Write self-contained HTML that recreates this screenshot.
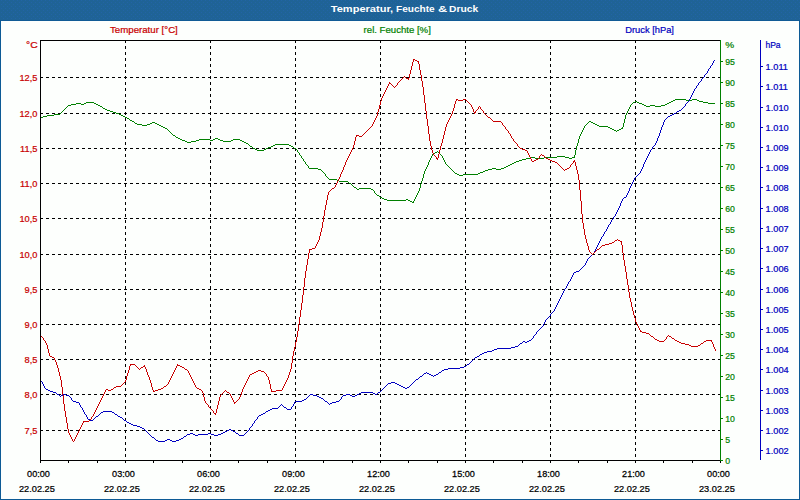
<!DOCTYPE html>
<html><head><meta charset="utf-8"><title>Temperatur, Feuchte &amp; Druck</title>
<style>
html,body{margin:0;padding:0;background:#fff;}
body{width:800px;height:500px;overflow:hidden;font-family:"Liberation Sans",sans-serif;}
svg{display:block;}
text{font-family:"Liberation Sans",sans-serif;font-size:9.5px;}
.t{font-weight:bold;fill:#fff;font-size:9.8px;}
.r{fill:#c80000;stroke:#c80000;stroke-width:.22px;}
.g{fill:#008000;stroke:#008000;stroke-width:.22px;}
.b{fill:#0000c0;stroke:#0000c0;stroke-width:.22px;}
.k{fill:#000;stroke:#000;stroke-width:.25px;}
</style></head><body>
<svg width="800" height="500" viewBox="0 0 800 500">

<rect x="0" y="0" width="800" height="500" fill="#fdfffd"/>
<defs><pattern id="dz" width="4" height="4" patternUnits="userSpaceOnUse"><rect x="1" y="0" width="1" height="1" fill="#2264a6"/><rect x="3" y="2" width="1" height="1" fill="#2264a6"/></pattern></defs>
<rect x="0" y="0" width="800" height="21" fill="#1f6396"/>
<rect x="0" y="0" width="800" height="20" fill="url(#dz)" shape-rendering="crispEdges"/>
<rect x="0" y="20" width="800" height="1" fill="#115b96"/>
<rect x="0" y="20" width="1" height="480" fill="#0d5a95"/>
<rect x="799" y="20" width="1" height="480" fill="#0d5a95"/>
<rect x="0" y="499" width="800" height="1" fill="#0d5a95"/>
<text class="t" transform="translate(330.8 12) scale(1.127 1)" text-anchor="start">Temperatur,</text>
<text class="t" transform="translate(396.1 12) scale(1.027 1)" text-anchor="start">Feuchte</text>
<text class="t" transform="translate(438.1 12) scale(1.3 1)" text-anchor="start">&amp;</text>
<text class="t" transform="translate(449.0 12) scale(1.05 1)" text-anchor="start">Druck</text>
<g shape-rendering="crispEdges" stroke="#000" stroke-width="1" fill="none">
<line x1="40" y1="77.5" x2="720" y2="77.5" stroke-dasharray="3 3"/>
<line x1="40" y1="113.5" x2="720" y2="113.5" stroke-dasharray="3 3"/>
<line x1="40" y1="148.5" x2="720" y2="148.5" stroke-dasharray="3 3"/>
<line x1="40" y1="183.5" x2="720" y2="183.5" stroke-dasharray="3 3"/>
<line x1="40" y1="218.5" x2="720" y2="218.5" stroke-dasharray="3 3"/>
<line x1="40" y1="254.5" x2="720" y2="254.5" stroke-dasharray="3 3"/>
<line x1="40" y1="289.5" x2="720" y2="289.5" stroke-dasharray="3 3"/>
<line x1="40" y1="324.5" x2="720" y2="324.5" stroke-dasharray="3 3"/>
<line x1="40" y1="359.5" x2="720" y2="359.5" stroke-dasharray="3 3"/>
<line x1="40" y1="394.5" x2="720" y2="394.5" stroke-dasharray="3 3"/>
<line x1="40" y1="430.5" x2="720" y2="430.5" stroke-dasharray="3 3"/>
<line x1="125.5" y1="40" x2="125.5" y2="460" stroke-dasharray="3 3"/>
<line x1="210.5" y1="40" x2="210.5" y2="460" stroke-dasharray="3 3"/>
<line x1="295.5" y1="40" x2="295.5" y2="460" stroke-dasharray="3 3"/>
<line x1="380.5" y1="40" x2="380.5" y2="460" stroke-dasharray="3 3"/>
<line x1="465.5" y1="40" x2="465.5" y2="460" stroke-dasharray="3 3"/>
<line x1="550.5" y1="40" x2="550.5" y2="460" stroke-dasharray="3 3"/>
<line x1="635.5" y1="40" x2="635.5" y2="460" stroke-dasharray="3 3"/>
<line x1="40.5" y1="40" x2="40.5" y2="461"/>
<line x1="40" y1="40.5" x2="721" y2="40.5"/>
<line x1="40" y1="460.5" x2="721" y2="460.5"/>
<line x1="40.5" y1="460" x2="40.5" y2="463"/>
<line x1="68.5" y1="460" x2="68.5" y2="463"/>
<line x1="97.5" y1="460" x2="97.5" y2="463"/>
<line x1="125.5" y1="460" x2="125.5" y2="463"/>
<line x1="153.5" y1="460" x2="153.5" y2="463"/>
<line x1="182.5" y1="460" x2="182.5" y2="463"/>
<line x1="210.5" y1="460" x2="210.5" y2="463"/>
<line x1="238.5" y1="460" x2="238.5" y2="463"/>
<line x1="267.5" y1="460" x2="267.5" y2="463"/>
<line x1="295.5" y1="460" x2="295.5" y2="463"/>
<line x1="323.5" y1="460" x2="323.5" y2="463"/>
<line x1="352.5" y1="460" x2="352.5" y2="463"/>
<line x1="380.5" y1="460" x2="380.5" y2="463"/>
<line x1="408.5" y1="460" x2="408.5" y2="463"/>
<line x1="437.5" y1="460" x2="437.5" y2="463"/>
<line x1="465.5" y1="460" x2="465.5" y2="463"/>
<line x1="493.5" y1="460" x2="493.5" y2="463"/>
<line x1="522.5" y1="460" x2="522.5" y2="463"/>
<line x1="550.5" y1="460" x2="550.5" y2="463"/>
<line x1="578.5" y1="460" x2="578.5" y2="463"/>
<line x1="607.5" y1="460" x2="607.5" y2="463"/>
<line x1="635.5" y1="460" x2="635.5" y2="463"/>
<line x1="663.5" y1="460" x2="663.5" y2="463"/>
<line x1="692.5" y1="460" x2="692.5" y2="463"/>
<line x1="720.5" y1="460" x2="720.5" y2="463"/>
</g>
<g shape-rendering="crispEdges" stroke-width="1" fill="none">
<line x1="720.5" y1="40" x2="720.5" y2="461" stroke="#008000"/>
<line x1="720" y1="460.5" x2="723" y2="460.5" stroke="#008000"/>
<line x1="720" y1="439.5" x2="723" y2="439.5" stroke="#008000"/>
<line x1="720" y1="418.5" x2="723" y2="418.5" stroke="#008000"/>
<line x1="720" y1="397.5" x2="723" y2="397.5" stroke="#008000"/>
<line x1="720" y1="376.5" x2="723" y2="376.5" stroke="#008000"/>
<line x1="720" y1="355.5" x2="723" y2="355.5" stroke="#008000"/>
<line x1="720" y1="334.5" x2="723" y2="334.5" stroke="#008000"/>
<line x1="720" y1="313.5" x2="723" y2="313.5" stroke="#008000"/>
<line x1="720" y1="292.5" x2="723" y2="292.5" stroke="#008000"/>
<line x1="720" y1="271.5" x2="723" y2="271.5" stroke="#008000"/>
<line x1="720" y1="250.5" x2="723" y2="250.5" stroke="#008000"/>
<line x1="720" y1="229.5" x2="723" y2="229.5" stroke="#008000"/>
<line x1="720" y1="208.5" x2="723" y2="208.5" stroke="#008000"/>
<line x1="720" y1="187.5" x2="723" y2="187.5" stroke="#008000"/>
<line x1="720" y1="166.5" x2="723" y2="166.5" stroke="#008000"/>
<line x1="720" y1="145.5" x2="723" y2="145.5" stroke="#008000"/>
<line x1="720" y1="124.5" x2="723" y2="124.5" stroke="#008000"/>
<line x1="720" y1="103.5" x2="723" y2="103.5" stroke="#008000"/>
<line x1="720" y1="82.5" x2="723" y2="82.5" stroke="#008000"/>
<line x1="720" y1="61.5" x2="723" y2="61.5" stroke="#008000"/>
<line x1="760.5" y1="40" x2="760.5" y2="460" stroke="#0000c0"/>
<line x1="760" y1="450.5" x2="763" y2="450.5" stroke="#0000c0"/>
<line x1="760" y1="430.5" x2="763" y2="430.5" stroke="#0000c0"/>
<line x1="760" y1="410.5" x2="763" y2="410.5" stroke="#0000c0"/>
<line x1="760" y1="390.5" x2="763" y2="390.5" stroke="#0000c0"/>
<line x1="760" y1="369.5" x2="763" y2="369.5" stroke="#0000c0"/>
<line x1="760" y1="349.5" x2="763" y2="349.5" stroke="#0000c0"/>
<line x1="760" y1="329.5" x2="763" y2="329.5" stroke="#0000c0"/>
<line x1="760" y1="309.5" x2="763" y2="309.5" stroke="#0000c0"/>
<line x1="760" y1="289.5" x2="763" y2="289.5" stroke="#0000c0"/>
<line x1="760" y1="268.5" x2="763" y2="268.5" stroke="#0000c0"/>
<line x1="760" y1="248.5" x2="763" y2="248.5" stroke="#0000c0"/>
<line x1="760" y1="228.5" x2="763" y2="228.5" stroke="#0000c0"/>
<line x1="760" y1="208.5" x2="763" y2="208.5" stroke="#0000c0"/>
<line x1="760" y1="187.5" x2="763" y2="187.5" stroke="#0000c0"/>
<line x1="760" y1="167.5" x2="763" y2="167.5" stroke="#0000c0"/>
<line x1="760" y1="147.5" x2="763" y2="147.5" stroke="#0000c0"/>
<line x1="760" y1="127.5" x2="763" y2="127.5" stroke="#0000c0"/>
<line x1="760" y1="107.5" x2="763" y2="107.5" stroke="#0000c0"/>
<line x1="760" y1="86.5" x2="763" y2="86.5" stroke="#0000c0"/>
<line x1="760" y1="66.5" x2="763" y2="66.5" stroke="#0000c0"/>
</g>
<text class="r" transform="translate(110 33.3) scale(1.019 1)" text-anchor="start">Temperatur [°C]</text>
<text class="g" transform="translate(363.6 33.3) scale(1.011 1)" text-anchor="start">rel. Feuchte [%]</text>
<text class="b" transform="translate(625.2 33.3) scale(0.985 1)" text-anchor="start">Druck [hPa]</text>
<text class="r" transform="translate(37.6 48) scale(1.09 1)" text-anchor="end">°C</text>
<text class="r" transform="translate(37.4 80.6) scale(0.975 1)" text-anchor="end">12,5</text>
<text class="r" transform="translate(37.4 116.6) scale(0.975 1)" text-anchor="end">12,0</text>
<text class="r" transform="translate(37.4 151.6) scale(0.975 1)" text-anchor="end">11,5</text>
<text class="r" transform="translate(37.4 186.6) scale(0.975 1)" text-anchor="end">11,0</text>
<text class="r" transform="translate(37.4 221.6) scale(0.975 1)" text-anchor="end">10,5</text>
<text class="r" transform="translate(37.4 257.6) scale(0.975 1)" text-anchor="end">10,0</text>
<text class="r" transform="translate(37.4 292.6) scale(0.975 1)" text-anchor="end">9,5</text>
<text class="r" transform="translate(37.4 327.6) scale(0.975 1)" text-anchor="end">9,0</text>
<text class="r" transform="translate(37.4 362.6) scale(0.975 1)" text-anchor="end">8,5</text>
<text class="r" transform="translate(37.4 397.6) scale(0.975 1)" text-anchor="end">8,0</text>
<text class="r" transform="translate(37.4 433.6) scale(0.975 1)" text-anchor="end">7,5</text>
<text class="g" transform="translate(725.2 48) scale(1.05 1)" text-anchor="start">%</text>
<text class="g" transform="translate(725.2 463.6) scale(0.92 1)" text-anchor="start">0</text>
<text class="g" transform="translate(725.2 442.6) scale(0.92 1)" text-anchor="start">5</text>
<text class="g" transform="translate(725.2 421.6) scale(0.92 1)" text-anchor="start">10</text>
<text class="g" transform="translate(725.2 400.6) scale(0.92 1)" text-anchor="start">15</text>
<text class="g" transform="translate(725.2 379.6) scale(0.92 1)" text-anchor="start">20</text>
<text class="g" transform="translate(725.2 358.6) scale(0.92 1)" text-anchor="start">25</text>
<text class="g" transform="translate(725.2 337.6) scale(0.92 1)" text-anchor="start">30</text>
<text class="g" transform="translate(725.2 316.6) scale(0.92 1)" text-anchor="start">35</text>
<text class="g" transform="translate(725.2 295.6) scale(0.92 1)" text-anchor="start">40</text>
<text class="g" transform="translate(725.2 274.6) scale(0.92 1)" text-anchor="start">45</text>
<text class="g" transform="translate(725.2 253.6) scale(0.92 1)" text-anchor="start">50</text>
<text class="g" transform="translate(725.2 232.6) scale(0.92 1)" text-anchor="start">55</text>
<text class="g" transform="translate(725.2 211.6) scale(0.92 1)" text-anchor="start">60</text>
<text class="g" transform="translate(725.2 190.6) scale(0.92 1)" text-anchor="start">65</text>
<text class="g" transform="translate(725.2 169.6) scale(0.92 1)" text-anchor="start">70</text>
<text class="g" transform="translate(725.2 148.6) scale(0.92 1)" text-anchor="start">75</text>
<text class="g" transform="translate(725.2 127.6) scale(0.92 1)" text-anchor="start">80</text>
<text class="g" transform="translate(725.2 106.6) scale(0.92 1)" text-anchor="start">85</text>
<text class="g" transform="translate(725.2 85.6) scale(0.92 1)" text-anchor="start">90</text>
<text class="g" transform="translate(725.2 64.6) scale(0.92 1)" text-anchor="start">95</text>
<text class="b" transform="translate(765.4 48) scale(0.9 1)" text-anchor="start">hPa</text>
<text class="b" transform="translate(765.6 453.6) scale(0.97 1)" text-anchor="start">1.002</text>
<text class="b" transform="translate(765.6 433.6) scale(0.97 1)" text-anchor="start">1.002</text>
<text class="b" transform="translate(765.6 413.6) scale(0.97 1)" text-anchor="start">1.003</text>
<text class="b" transform="translate(765.6 393.6) scale(0.97 1)" text-anchor="start">1.003</text>
<text class="b" transform="translate(765.6 372.6) scale(0.97 1)" text-anchor="start">1.004</text>
<text class="b" transform="translate(765.6 352.6) scale(0.97 1)" text-anchor="start">1.004</text>
<text class="b" transform="translate(765.6 332.6) scale(0.97 1)" text-anchor="start">1.005</text>
<text class="b" transform="translate(765.6 312.6) scale(0.97 1)" text-anchor="start">1.005</text>
<text class="b" transform="translate(765.6 292.6) scale(0.97 1)" text-anchor="start">1.006</text>
<text class="b" transform="translate(765.6 271.6) scale(0.97 1)" text-anchor="start">1.006</text>
<text class="b" transform="translate(765.6 251.6) scale(0.97 1)" text-anchor="start">1.007</text>
<text class="b" transform="translate(765.6 231.6) scale(0.97 1)" text-anchor="start">1.007</text>
<text class="b" transform="translate(765.6 211.6) scale(0.97 1)" text-anchor="start">1.008</text>
<text class="b" transform="translate(765.6 190.6) scale(0.97 1)" text-anchor="start">1.008</text>
<text class="b" transform="translate(765.6 170.6) scale(0.97 1)" text-anchor="start">1.009</text>
<text class="b" transform="translate(765.6 150.6) scale(0.97 1)" text-anchor="start">1.009</text>
<text class="b" transform="translate(765.6 130.6) scale(0.97 1)" text-anchor="start">1.010</text>
<text class="b" transform="translate(765.6 110.6) scale(0.97 1)" text-anchor="start">1.010</text>
<text class="b" transform="translate(765.6 89.6) scale(0.97 1)" text-anchor="start">1.011</text>
<text class="b" transform="translate(765.6 69.6) scale(0.97 1)" text-anchor="start">1.011</text>
<text class="k" transform="translate(38.5 476.8) scale(0.96 1)" text-anchor="middle">00:00</text>
<text class="k" transform="translate(36.9 491.8) scale(0.97 1)" text-anchor="middle">22.02.25</text>
<text class="k" transform="translate(123.5 476.8) scale(0.96 1)" text-anchor="middle">03:00</text>
<text class="k" transform="translate(121.9 491.8) scale(0.97 1)" text-anchor="middle">22.02.25</text>
<text class="k" transform="translate(208.5 476.8) scale(0.96 1)" text-anchor="middle">06:00</text>
<text class="k" transform="translate(206.9 491.8) scale(0.97 1)" text-anchor="middle">22.02.25</text>
<text class="k" transform="translate(293.5 476.8) scale(0.96 1)" text-anchor="middle">09:00</text>
<text class="k" transform="translate(291.9 491.8) scale(0.97 1)" text-anchor="middle">22.02.25</text>
<text class="k" transform="translate(378.5 476.8) scale(0.96 1)" text-anchor="middle">12:00</text>
<text class="k" transform="translate(376.9 491.8) scale(0.97 1)" text-anchor="middle">22.02.25</text>
<text class="k" transform="translate(463.5 476.8) scale(0.96 1)" text-anchor="middle">15:00</text>
<text class="k" transform="translate(461.9 491.8) scale(0.97 1)" text-anchor="middle">22.02.25</text>
<text class="k" transform="translate(548.5 476.8) scale(0.96 1)" text-anchor="middle">18:00</text>
<text class="k" transform="translate(546.9 491.8) scale(0.97 1)" text-anchor="middle">22.02.25</text>
<text class="k" transform="translate(633.5 476.8) scale(0.96 1)" text-anchor="middle">21:00</text>
<text class="k" transform="translate(631.9 491.8) scale(0.97 1)" text-anchor="middle">22.02.25</text>
<text class="k" transform="translate(718.5 476.8) scale(0.96 1)" text-anchor="middle">00:00</text>
<text class="k" transform="translate(716.9 491.8) scale(0.97 1)" text-anchor="middle">23.02.25</text>
<path d="M41 117h2v1h-2zM43 116h4v1h-4zM47 115h7v1h-7zM54 114h6v1h-6zM60 113h1v1h-1zM61 112h1v1h-1zM62 111h1v1h-1zM63 110h1v1h-1zM64 109h1v1h-1zM65 108h1v1h-1zM66 107h1v1h-1zM67 106h1v1h-1zM68 105h3v1h-3zM71 104h5v1h-5zM76 103h5v1h-5zM81 104h3v1h-3zM84 103h2v1h-2zM86 102h8v1h-8zM94 103h2v1h-2zM96 104h2v1h-2zM98 105h2v1h-2zM100 106h2v1h-2zM102 107h1v1h-1zM103 108h2v1h-2zM105 109h2v1h-2zM107 110h3v1h-3zM110 111h3v1h-3zM113 112h3v1h-3zM116 113h3v1h-3zM119 114h2v1h-2zM121 115h2v1h-2zM123 116h2v1h-2zM125 117h2v1h-2zM127 118h2v1h-2zM129 119h1v1h-1zM130 120h2v1h-2zM132 121h2v1h-2zM134 122h1v1h-1zM135 123h2v1h-2zM137 124h5v1h-5zM142 125h5v1h-5zM147 124h3v1h-3zM150 123h2v1h-2zM152 122h3v1h-3zM155 123h2v1h-2zM157 124h2v1h-2zM159 125h2v1h-2zM161 126h2v1h-2zM163 127h2v1h-2zM165 128h2v1h-2zM167 129h1v1h-1zM168 130h1v1h-1zM169 131h1v1h-1zM170 132h1v1h-1zM171 133h1v1h-1zM172 134h1v1h-1zM173 135h2v1h-2zM175 136h1v1h-1zM176 137h2v1h-2zM178 138h2v1h-2zM180 139h2v1h-2zM182 140h3v1h-3zM185 141h2v1h-2zM187 142h4v1h-4zM191 141h5v1h-5zM196 140h3v1h-3zM199 139h11v1h-11zM210 140h3v1h-3zM213 139h2v1h-2zM215 138h3v1h-3zM218 139h2v1h-2zM220 140h3v1h-3zM223 141h8v1h-8zM231 140h2v1h-2zM233 139h7v1h-7zM240 140h2v1h-2zM242 141h2v1h-2zM244 142h2v1h-2zM246 143h2v1h-2zM248 144h1v1h-1zM249 145h1v1h-1zM250 146h2v1h-2zM252 147h1v1h-1zM253 148h2v1h-2zM255 149h2v1h-2zM257 150h7v1h-7zM264 149h2v1h-2zM266 148h2v1h-2zM268 147h3v1h-3zM271 146h2v1h-2zM273 145h2v1h-2zM275 144h14v1h-14zM289 145h2v1h-2zM291 146h2v1h-2zM293 147h1v1h-1zM294 148h2v1h-2zM296 149h1v1h-1zM297 150h1v2h-1zM298 152h1v1h-1zM299 153h1v2h-1zM300 155h1v1h-1zM301 156h1v2h-1zM302 158h1v1h-1zM303 159h1v2h-1zM304 161h1v1h-1zM305 162h1v2h-1zM306 164h1v1h-1zM307 165h1v1h-1zM308 166h1v2h-1zM309 168h9v1h-9zM318 169h3v1h-3zM321 170h1v1h-1zM322 171h1v1h-1zM323 172h1v1h-1zM324 173h1v1h-1zM325 174h1v2h-1zM326 176h1v1h-1zM327 177h1v1h-1zM328 178h1v1h-1zM329 179h8v1h-8zM337 180h2v1h-2zM339 181h9v1h-9zM348 182h1v1h-1zM349 183h2v1h-2zM351 184h1v1h-1zM352 185h1v1h-1zM353 186h1v1h-1zM354 187h2v1h-2zM356 188h1v1h-1zM357 189h2v1h-2zM359 188h12v1h-12zM371 189h2v1h-2zM373 190h1v1h-1zM374 191h1v2h-1zM375 193h1v1h-1zM376 194h1v1h-1zM377 195h2v1h-2zM379 196h1v1h-1zM380 197h2v1h-2zM382 198h2v1h-2zM384 199h3v1h-3zM387 200h19v1h-19zM406 199h2v1h-2zM408 200h2v1h-2zM410 201h2v1h-2zM412 202h2v1h-2zM413 201h1v1h-1zM414 199h1v2h-1zM415 197h1v2h-1zM416 195h1v2h-1zM417 193h1v2h-1zM418 191h1v2h-1zM419 188h1v3h-1zM420 184h1v4h-1zM421 181h1v3h-1zM422 178h1v3h-1zM423 174h1v4h-1zM424 171h1v3h-1zM425 169h1v2h-1zM426 167h1v2h-1zM427 165h1v2h-1zM428 162h1v3h-1zM429 160h1v2h-1zM430 158h1v2h-1zM431 156h1v2h-1zM432 154h1v2h-1zM433 153h2v1h-2zM435 152h2v1h-2zM437 151h1v1h-1zM438 152h1v1h-1zM439 153h1v1h-1zM440 154h1v1h-1zM441 155h1v1h-1zM442 156h1v2h-1zM443 158h1v2h-1zM444 160h1v2h-1zM445 162h1v2h-1zM446 164h1v1h-1zM447 165h1v1h-1zM448 166h1v1h-1zM449 167h1v1h-1zM450 168h1v1h-1zM451 169h1v1h-1zM452 170h1v1h-1zM453 171h1v1h-1zM454 172h1v1h-1zM455 173h2v1h-2zM457 174h2v1h-2zM459 175h4v1h-4zM463 174h15v1h-15zM478 173h2v1h-2zM480 172h3v1h-3zM483 171h2v1h-2zM485 170h3v1h-3zM488 169h4v1h-4zM492 168h4v1h-4zM496 169h5v1h-5zM501 168h3v1h-3zM504 167h2v1h-2zM506 166h2v1h-2zM508 165h2v1h-2zM510 164h2v1h-2zM512 163h2v1h-2zM514 162h2v1h-2zM516 161h3v1h-3zM519 160h3v1h-3zM522 159h4v1h-4zM526 158h4v1h-4zM530 157h5v1h-5zM535 158h9v1h-9zM544 157h13v1h-13zM557 156h8v1h-8zM565 157h4v1h-4zM569 158h3v1h-3zM572 157h3v1h-3zM574 155h1v2h-1zM575 150h1v5h-1zM576 146h1v4h-1zM577 143h1v3h-1zM578 139h1v4h-1zM579 136h1v3h-1zM580 134h1v2h-1zM581 132h1v2h-1zM582 130h1v2h-1zM583 128h1v2h-1zM584 126h1v2h-1zM585 125h1v1h-1zM586 124h1v1h-1zM587 123h1v1h-1zM588 122h1v1h-1zM589 121h2v1h-2zM591 122h2v1h-2zM593 123h2v1h-2zM595 124h2v1h-2zM597 125h2v1h-2zM599 126h9v1h-9zM608 127h2v1h-2zM610 128h2v1h-2zM612 129h2v1h-2zM614 130h2v1h-2zM616 131h1v1h-1zM617 130h2v1h-2zM619 129h2v1h-2zM621 128h2v1h-2zM622 127h1v1h-1zM623 123h1v4h-1zM624 119h1v4h-1zM625 115h1v4h-1zM626 113h1v2h-1zM627 111h1v2h-1zM628 109h1v2h-1zM629 107h1v2h-1zM630 105h1v2h-1zM631 104h1v1h-1zM632 103h1v1h-1zM633 102h2v1h-2zM635 101h2v1h-2zM637 102h2v1h-2zM639 103h3v1h-3zM642 104h2v1h-2zM644 105h2v1h-2zM646 106h4v1h-4zM650 105h5v1h-5zM655 106h6v1h-6zM661 105h4v1h-4zM665 104h2v1h-2zM667 103h2v1h-2zM669 102h2v1h-2zM671 101h2v1h-2zM673 100h2v1h-2zM675 99h11v1h-11zM686 100h6v1h-6zM692 99h5v1h-5zM697 100h2v1h-2zM699 101h4v1h-4zM703 102h5v1h-5zM708 103h7v1h-7z" fill="#008000" shape-rendering="crispEdges"/>
<path d="M41 381h1v1h-1zM42 382h1v2h-1zM43 384h1v2h-1zM44 386h1v2h-1zM45 388h1v1h-1zM46 389h2v1h-2zM48 390h2v1h-2zM50 391h3v1h-3zM53 392h3v1h-3zM56 393h1v1h-1zM57 394h2v1h-2zM59 395h1v1h-1zM60 396h1v1h-1zM61 395h2v1h-2zM63 394h3v1h-3zM66 395h3v1h-3zM69 396h1v1h-1zM70 397h1v1h-1zM71 398h1v2h-1zM72 400h1v1h-1zM73 401h3v1h-3zM76 402h3v1h-3zM79 403h1v2h-1zM80 405h1v2h-1zM81 407h1v1h-1zM82 408h1v2h-1zM83 410h1v2h-1zM84 412h1v2h-1zM85 414h1v1h-1zM86 415h1v2h-1zM87 417h1v2h-1zM88 419h2v1h-2zM90 420h3v1h-3zM93 419h1v1h-1zM94 418h1v1h-1zM95 417h1v1h-1zM96 416h2v1h-2zM98 415h1v1h-1zM99 414h1v1h-1zM100 413h1v1h-1zM101 412h2v1h-2zM103 411h9v1h-9zM112 412h2v1h-2zM114 413h1v1h-1zM115 414h2v1h-2zM117 415h1v1h-1zM118 416h2v1h-2zM120 417h2v1h-2zM122 418h1v1h-1zM123 419h1v1h-1zM124 420h2v1h-2zM126 421h1v1h-1zM127 422h2v1h-2zM129 423h2v1h-2zM131 424h2v1h-2zM133 425h4v1h-4zM137 426h3v1h-3zM140 427h2v1h-2zM142 428h2v1h-2zM144 429h1v1h-1zM145 430h1v1h-1zM146 431h1v1h-1zM147 432h1v1h-1zM148 433h1v1h-1zM149 434h1v1h-1zM150 435h1v1h-1zM151 436h1v1h-1zM152 437h2v1h-2zM154 438h1v1h-1zM155 439h1v1h-1zM156 440h2v1h-2zM158 441h7v1h-7zM165 440h2v1h-2zM167 439h3v1h-3zM170 440h2v1h-2zM172 441h4v1h-4zM176 440h3v1h-3zM179 439h2v1h-2zM181 438h2v1h-2zM183 437h1v1h-1zM184 436h2v1h-2zM186 435h1v1h-1zM187 434h3v1h-3zM190 433h3v1h-3zM193 434h2v1h-2zM195 435h3v1h-3zM198 434h10v1h-10zM208 433h3v1h-3zM211 434h3v1h-3zM214 435h4v1h-4zM218 434h3v1h-3zM221 433h2v1h-2zM223 432h2v1h-2zM225 431h2v1h-2zM227 430h2v1h-2zM229 429h2v1h-2zM231 430h2v1h-2zM233 431h2v1h-2zM235 432h1v1h-1zM236 433h2v1h-2zM238 434h1v1h-1zM239 435h5v1h-5zM244 434h1v1h-1zM245 433h1v1h-1zM246 432h1v1h-1zM247 431h1v1h-1zM248 430h1v1h-1zM249 428h1v2h-1zM250 427h1v1h-1zM251 426h1v1h-1zM252 424h1v2h-1zM253 423h1v1h-1zM254 421h1v2h-1zM255 420h1v1h-1zM256 419h1v1h-1zM257 417h1v2h-1zM258 416h1v1h-1zM259 415h2v1h-2zM261 414h2v1h-2zM263 413h2v1h-2zM265 412h1v1h-1zM266 411h2v1h-2zM268 410h2v1h-2zM270 409h2v1h-2zM272 408h6v1h-6zM278 407h1v1h-1zM279 406h1v1h-1zM280 405h1v1h-1zM281 404h1v1h-1zM282 405h1v1h-1zM283 406h1v1h-1zM284 407h2v1h-2zM286 408h1v1h-1zM287 409h4v1h-4zM291 407h1v2h-1zM292 406h1v1h-1zM293 404h1v2h-1zM294 402h1v2h-1zM295 401h7v1h-7zM302 400h2v1h-2zM304 399h2v1h-2zM306 398h1v1h-1zM307 397h1v1h-1zM308 396h1v1h-1zM309 395h1v1h-1zM310 394h3v1h-3zM313 395h4v1h-4zM317 396h2v1h-2zM319 397h2v1h-2zM321 398h2v1h-2zM323 399h1v1h-1zM324 400h1v1h-1zM325 401h2v1h-2zM327 402h1v1h-1zM328 403h1v1h-1zM329 404h1v1h-1zM330 403h2v1h-2zM332 402h4v1h-4zM336 401h3v1h-3zM339 400h1v1h-1zM340 399h1v1h-1zM341 397h1v2h-1zM342 396h1v1h-1zM343 395h3v1h-3zM346 394h4v1h-4zM350 395h2v1h-2zM352 396h3v1h-3zM355 395h2v1h-2zM357 394h2v1h-2zM359 393h2v1h-2zM361 392h12v1h-12zM373 393h2v1h-2zM375 394h2v1h-2zM377 393h1v1h-1zM378 392h2v1h-2zM380 391h1v1h-1zM381 390h1v1h-1zM382 389h1v1h-1zM383 388h1v1h-1zM384 387h1v1h-1zM385 386h1v1h-1zM386 385h1v1h-1zM387 384h1v1h-1zM388 383h3v1h-3zM391 382h4v1h-4zM395 383h2v1h-2zM397 384h2v1h-2zM399 385h2v1h-2zM401 386h2v1h-2zM403 387h2v1h-2zM405 388h2v1h-2zM407 387h2v1h-2zM409 386h1v1h-1zM410 385h1v1h-1zM411 384h1v1h-1zM412 383h1v1h-1zM413 382h1v1h-1zM414 381h1v1h-1zM415 380h1v1h-1zM416 379h2v1h-2zM418 378h1v1h-1zM419 377h1v1h-1zM420 376h2v1h-2zM422 375h1v1h-1zM423 374h1v1h-1zM424 373h2v1h-2zM426 372h1v1h-1zM427 373h2v1h-2zM429 374h2v1h-2zM431 375h2v1h-2zM433 376h1v1h-1zM434 375h2v1h-2zM436 374h2v1h-2zM438 373h1v1h-1zM439 372h2v1h-2zM441 371h1v1h-1zM442 370h2v1h-2zM444 369h4v1h-4zM448 368h12v1h-12zM460 367h4v1h-4zM464 366h2v1h-2zM466 365h1v1h-1zM467 364h2v1h-2zM469 363h1v1h-1zM470 362h1v1h-1zM471 361h1v1h-1zM472 360h1v1h-1zM473 359h1v1h-1zM474 358h1v1h-1zM475 357h2v1h-2zM477 356h2v1h-2zM479 355h1v1h-1zM480 354h2v1h-2zM482 353h2v1h-2zM484 352h3v1h-3zM487 351h5v1h-5zM492 350h2v1h-2zM494 349h3v1h-3zM497 348h14v1h-14zM511 347h4v1h-4zM515 346h3v1h-3zM518 345h1v1h-1zM519 344h1v1h-1zM520 343h2v1h-2zM522 342h1v1h-1zM523 341h2v1h-2zM525 342h2v1h-2zM527 341h2v1h-2zM529 340h2v1h-2zM531 339h1v1h-1zM532 338h1v1h-1zM533 336h1v2h-1zM534 335h1v1h-1zM535 334h1v1h-1zM536 332h1v2h-1zM537 331h1v1h-1zM538 330h1v1h-1zM539 329h1v1h-1zM540 328h1v1h-1zM541 327h1v1h-1zM542 326h1v1h-1zM543 324h1v2h-1zM544 322h1v2h-1zM545 320h1v2h-1zM546 319h1v1h-1zM547 318h1v1h-1zM548 317h1v1h-1zM549 316h1v1h-1zM550 314h1v2h-1zM551 313h1v1h-1zM552 312h1v1h-1zM553 311h1v1h-1zM554 309h1v2h-1zM555 307h1v2h-1zM556 305h1v2h-1zM557 303h1v2h-1zM558 301h1v2h-1zM559 299h1v2h-1zM560 297h1v2h-1zM561 295h1v2h-1zM562 293h1v2h-1zM563 291h1v2h-1zM564 289h1v2h-1zM565 288h1v1h-1zM566 286h1v2h-1zM567 284h1v2h-1zM568 282h1v2h-1zM569 281h1v1h-1zM570 279h1v2h-1zM571 277h1v2h-1zM572 275h1v2h-1zM573 273h1v2h-1zM574 272h2v1h-2zM576 271h3v1h-3zM579 270h1v1h-1zM580 269h1v1h-1zM581 268h1v1h-1zM582 267h1v1h-1zM583 266h1v1h-1zM584 265h1v1h-1zM585 263h1v2h-1zM586 261h1v2h-1zM587 259h1v2h-1zM588 258h1v1h-1zM589 257h1v1h-1zM590 256h1v1h-1zM591 255h1v1h-1zM592 254h1v1h-1zM593 253h1v1h-1zM594 251h1v2h-1zM595 249h1v2h-1zM596 247h1v2h-1zM597 245h1v2h-1zM598 243h1v2h-1zM599 241h1v2h-1zM600 239h1v2h-1zM601 237h1v2h-1zM602 236h1v1h-1zM603 234h1v2h-1zM604 232h1v2h-1zM605 231h1v1h-1zM606 229h1v2h-1zM607 227h1v2h-1zM608 225h1v2h-1zM609 224h1v1h-1zM610 222h1v2h-1zM611 220h1v2h-1zM612 219h1v1h-1zM613 217h1v2h-1zM614 216h1v1h-1zM615 214h1v2h-1zM616 212h1v2h-1zM617 210h1v2h-1zM618 208h1v2h-1zM619 206h1v2h-1zM620 203h1v3h-1zM621 201h1v2h-1zM622 199h1v2h-1zM623 198h1v1h-1zM624 197h2v1h-2zM626 195h1v2h-1zM627 193h1v2h-1zM628 191h1v2h-1zM629 188h1v3h-1zM630 186h1v2h-1zM631 184h1v2h-1zM632 182h1v2h-1zM633 180h1v2h-1zM634 178h1v2h-1zM635 177h1v1h-1zM636 176h1v1h-1zM637 175h1v1h-1zM638 174h1v1h-1zM639 173h1v1h-1zM640 171h1v2h-1zM641 169h1v2h-1zM642 167h1v2h-1zM643 164h1v3h-1zM644 162h1v2h-1zM645 160h1v2h-1zM646 158h1v2h-1zM647 156h1v2h-1zM648 154h1v2h-1zM649 152h1v2h-1zM650 150h1v2h-1zM651 149h1v1h-1zM652 147h1v2h-1zM653 146h1v1h-1zM654 145h1v1h-1zM655 143h1v2h-1zM656 141h1v2h-1zM657 138h1v3h-1zM658 136h1v2h-1zM659 133h1v3h-1zM660 130h1v3h-1zM661 127h1v3h-1zM662 125h1v2h-1zM663 122h1v3h-1zM664 120h1v2h-1zM665 119h1v1h-1zM666 118h1v1h-1zM667 117h1v1h-1zM668 116h2v1h-2zM670 115h2v1h-2zM672 114h2v1h-2zM674 113h2v1h-2zM676 112h1v1h-1zM677 111h2v1h-2zM679 110h2v1h-2zM681 109h1v1h-1zM682 108h1v1h-1zM683 107h1v1h-1zM684 106h1v1h-1zM685 104h1v2h-1zM686 103h1v1h-1zM687 102h1v1h-1zM688 101h1v1h-1zM689 99h1v2h-1zM690 97h1v2h-1zM691 95h1v2h-1zM692 93h1v2h-1zM693 91h1v2h-1zM694 89h1v2h-1zM695 88h1v1h-1zM696 86h1v2h-1zM697 85h1v1h-1zM698 83h1v2h-1zM699 82h1v1h-1zM700 81h1v1h-1zM701 79h1v2h-1zM702 78h1v1h-1zM703 77h1v1h-1zM704 75h1v2h-1zM705 74h1v1h-1zM706 73h1v1h-1zM707 71h1v2h-1zM708 69h1v2h-1zM709 68h1v1h-1zM710 66h1v2h-1zM711 65h1v1h-1zM712 63h1v2h-1zM713 61h1v2h-1zM714 60h1v1h-1z" fill="#0000c0" shape-rendering="crispEdges"/>
<path d="M41 336h1v1h-1zM42 337h1v1h-1zM43 338h1v2h-1zM44 340h1v1h-1zM45 341h1v2h-1zM46 343h1v2h-1zM47 345h1v4h-1zM48 349h1v4h-1zM49 353h1v3h-1zM50 356h2v1h-2zM52 357h2v1h-2zM54 358h1v2h-1zM55 360h1v2h-1zM56 362h1v3h-1zM57 365h1v3h-1zM58 368h1v4h-1zM59 372h1v4h-1zM60 376h1v4h-1zM61 380h1v7h-1zM62 387h1v8h-1zM63 395h1v9h-1zM64 404h1v7h-1zM65 411h1v6h-1zM66 417h1v6h-1zM67 423h1v6h-1zM68 429h1v4h-1zM69 433h1v2h-1zM70 435h1v2h-1zM71 437h1v2h-1zM72 439h1v2h-1zM73 441h1v1h-1zM74 439h1v2h-1zM75 437h1v2h-1zM76 435h1v2h-1zM77 433h1v2h-1zM78 431h1v2h-1zM79 429h1v2h-1zM80 427h1v2h-1zM81 425h1v2h-1zM82 423h1v2h-1zM83 421h6v1h-6zM83 422h1v1h-1zM89 420h1v1h-1zM90 419h1v1h-1zM91 417h1v2h-1zM92 416h1v1h-1zM93 414h1v2h-1zM94 412h1v2h-1zM95 410h1v2h-1zM96 408h1v2h-1zM97 406h1v2h-1zM98 404h1v2h-1zM99 402h1v2h-1zM100 400h1v2h-1zM101 398h1v2h-1zM102 396h1v2h-1zM103 394h1v2h-1zM104 392h1v2h-1zM105 390h1v2h-1zM106 389h2v1h-2zM108 390h3v1h-3zM111 389h2v1h-2zM113 388h1v1h-1zM114 387h2v1h-2zM116 386h5v1h-5zM121 385h1v1h-1zM122 384h1v1h-1zM123 383h1v1h-1zM124 382h1v1h-1zM125 380h1v2h-1zM126 376h1v4h-1zM127 373h1v3h-1zM128 370h1v3h-1zM129 366h1v4h-1zM130 364h5v1h-5zM130 365h1v1h-1zM135 365h1v1h-1zM136 366h1v1h-1zM137 367h1v1h-1zM138 368h1v1h-1zM139 369h1v1h-1zM140 368h1v1h-1zM141 367h2v1h-2zM143 366h2v1h-2zM144 365h1v1h-1zM145 367h1v2h-1zM146 369h1v3h-1zM147 372h1v3h-1zM148 375h1v2h-1zM149 377h1v3h-1zM150 380h1v3h-1zM151 383h1v4h-1zM152 387h1v3h-1zM153 390h1v1h-1zM153 391h2v1h-2zM155 390h3v1h-3zM158 389h3v1h-3zM161 388h2v1h-2zM163 387h1v1h-1zM164 386h2v1h-2zM166 385h1v1h-1zM167 384h1v1h-1zM168 382h1v2h-1zM169 380h1v2h-1zM170 378h1v2h-1zM171 376h1v2h-1zM172 374h1v2h-1zM173 372h1v2h-1zM174 370h1v2h-1zM175 368h1v2h-1zM176 366h1v2h-1zM177 364h1v1h-1zM177 365h3v1h-3zM180 366h2v1h-2zM182 367h2v1h-2zM184 368h1v1h-1zM185 369h2v1h-2zM187 370h1v1h-1zM188 371h1v2h-1zM189 373h1v2h-1zM190 375h1v2h-1zM191 377h1v2h-1zM192 379h1v2h-1zM193 381h1v2h-1zM194 383h1v2h-1zM195 385h1v2h-1zM196 387h1v1h-1zM197 388h2v1h-2zM199 389h2v1h-2zM201 390h1v1h-1zM202 391h1v2h-1zM203 393h1v4h-1zM204 397h1v4h-1zM205 401h1v2h-1zM206 403h1v1h-1zM207 404h1v1h-1zM208 405h1v2h-1zM209 407h1v1h-1zM210 408h1v1h-1zM211 409h1v1h-1zM212 410h1v1h-1zM213 411h1v2h-1zM214 413h2v1h-2zM215 414h1v1h-1zM216 409h1v4h-1zM217 405h1v4h-1zM218 401h1v4h-1zM219 397h1v4h-1zM220 395h1v2h-1zM221 394h1v1h-1zM222 393h1v1h-1zM223 392h1v1h-1zM224 391h1v1h-1zM225 390h1v1h-1zM226 391h1v1h-1zM227 392h2v1h-2zM229 393h1v1h-1zM230 394h1v2h-1zM231 396h1v2h-1zM232 398h1v2h-1zM233 400h1v2h-1zM234 402h2v1h-2zM234 403h1v1h-1zM236 401h1v1h-1zM237 400h1v1h-1zM238 399h1v1h-1zM239 397h1v2h-1zM240 395h1v2h-1zM241 392h1v3h-1zM242 389h1v3h-1zM243 387h1v2h-1zM244 385h1v2h-1zM245 383h1v2h-1zM246 381h1v2h-1zM247 379h1v2h-1zM248 377h1v2h-1zM249 375h1v2h-1zM250 374h2v1h-2zM252 373h2v1h-2zM254 372h2v1h-2zM256 371h2v1h-2zM258 370h3v1h-3zM261 371h3v1h-3zM264 372h1v1h-1zM265 373h1v1h-1zM266 374h1v2h-1zM267 376h1v1h-1zM268 377h1v3h-1zM269 380h1v4h-1zM270 384h1v5h-1zM271 389h1v2h-1zM271 391h5v1h-5zM276 390h6v1h-6zM282 388h1v2h-1zM283 386h1v2h-1zM284 384h1v2h-1zM285 382h1v2h-1zM286 380h1v2h-1zM287 378h1v2h-1zM288 375h1v3h-1zM289 372h1v3h-1zM290 369h1v3h-1zM291 363h1v6h-1zM292 356h1v7h-1zM293 351h1v5h-1zM294 347h1v4h-1zM295 342h1v5h-1zM296 337h1v5h-1zM297 331h1v6h-1zM298 324h1v7h-1zM299 317h1v7h-1zM300 310h1v7h-1zM301 303h1v7h-1zM302 295h1v8h-1zM303 287h1v8h-1zM304 278h1v9h-1zM305 271h1v7h-1zM306 265h1v6h-1zM307 259h1v6h-1zM308 253h1v6h-1zM309 249h3v1h-3zM309 250h1v3h-1zM312 248h3v1h-3zM315 246h1v2h-1zM316 244h1v2h-1zM317 242h1v2h-1zM318 240h1v2h-1zM319 236h1v4h-1zM320 232h1v4h-1zM321 228h1v4h-1zM322 222h1v6h-1zM323 216h1v6h-1zM324 210h1v6h-1zM325 205h1v5h-1zM326 200h1v5h-1zM327 195h1v5h-1zM328 192h1v3h-1zM329 191h1v1h-1zM330 190h1v1h-1zM331 189h1v1h-1zM332 188h2v1h-2zM334 187h1v1h-1zM335 185h1v2h-1zM336 183h1v2h-1zM337 181h1v2h-1zM338 179h1v2h-1zM339 177h1v2h-1zM340 174h1v3h-1zM341 172h1v2h-1zM342 170h1v2h-1zM343 167h1v3h-1zM344 165h1v2h-1zM345 162h1v3h-1zM346 160h1v2h-1zM347 158h1v2h-1zM348 156h1v2h-1zM349 154h1v2h-1zM350 152h1v2h-1zM351 150h1v2h-1zM352 148h1v2h-1zM353 145h1v3h-1zM354 141h1v4h-1zM355 137h1v4h-1zM356 135h3v1h-3zM356 136h1v1h-1zM359 136h3v1h-3zM362 135h1v1h-1zM363 134h1v1h-1zM364 133h1v1h-1zM365 132h1v1h-1zM366 131h1v1h-1zM367 130h1v1h-1zM368 129h1v1h-1zM369 128h1v1h-1zM370 127h1v1h-1zM371 126h1v1h-1zM372 124h1v2h-1zM373 122h1v2h-1zM374 120h1v2h-1zM375 118h1v2h-1zM376 116h1v2h-1zM377 112h1v4h-1zM378 109h1v3h-1zM379 105h1v4h-1zM380 101h1v4h-1zM381 98h1v3h-1zM382 96h1v2h-1zM383 94h1v2h-1zM384 92h1v2h-1zM385 90h1v2h-1zM386 88h1v2h-1zM387 86h1v2h-1zM388 84h1v2h-1zM389 82h1v1h-1zM389 83h2v1h-2zM391 84h1v1h-1zM392 85h1v1h-1zM393 86h1v1h-1zM394 87h1v1h-1zM395 86h1v1h-1zM396 85h1v1h-1zM397 83h1v2h-1zM398 82h1v1h-1zM399 81h1v1h-1zM400 80h1v1h-1zM401 79h1v1h-1zM402 78h1v1h-1zM403 77h1v1h-1zM404 76h1v1h-1zM405 77h1v1h-1zM406 78h3v1h-3zM408 79h1v1h-1zM409 74h1v4h-1zM410 70h1v4h-1zM411 66h1v4h-1zM412 62h1v4h-1zM413 59h2v1h-2zM413 60h1v2h-1zM415 60h2v1h-2zM417 61h2v1h-2zM418 62h1v2h-1zM419 64h1v6h-1zM420 70h1v5h-1zM421 75h1v6h-1zM422 81h1v6h-1zM423 87h1v8h-1zM424 95h1v8h-1zM425 103h1v8h-1zM426 111h1v8h-1zM427 119h1v7h-1zM428 126h1v8h-1zM429 134h1v7h-1zM430 141h1v5h-1zM431 146h1v4h-1zM432 150h1v3h-1zM433 153h1v2h-1zM434 155h1v1h-1zM435 156h1v1h-1zM436 157h1v1h-1zM436 158h2v1h-2zM437 159h1v1h-1zM438 154h1v4h-1zM439 150h1v4h-1zM440 146h1v4h-1zM441 143h1v3h-1zM442 139h1v4h-1zM443 135h1v4h-1zM444 131h1v4h-1zM445 127h1v4h-1zM446 124h1v3h-1zM447 122h1v2h-1zM448 120h1v2h-1zM449 118h1v2h-1zM450 116h1v2h-1zM451 114h1v2h-1zM452 111h1v3h-1zM453 108h1v3h-1zM454 104h1v4h-1zM455 101h1v3h-1zM456 99h2v1h-2zM456 100h1v1h-1zM458 100h5v1h-5zM463 99h3v1h-3zM466 100h1v1h-1zM467 101h1v1h-1zM468 102h1v1h-1zM469 103h1v1h-1zM470 104h1v1h-1zM471 105h1v2h-1zM472 107h1v2h-1zM473 109h1v3h-1zM474 112h2v1h-2zM474 113h1v1h-1zM475 111h1v1h-1zM476 110h1v1h-1zM477 109h1v1h-1zM478 107h1v2h-1zM479 106h1v1h-1zM480 107h1v2h-1zM481 109h1v1h-1zM482 110h1v1h-1zM483 111h1v2h-1zM484 113h1v1h-1zM485 114h1v1h-1zM486 115h1v1h-1zM487 116h1v1h-1zM488 117h2v1h-2zM490 118h1v1h-1zM491 119h1v1h-1zM492 120h1v1h-1zM493 121h8v1h-8zM501 122h1v1h-1zM502 123h1v2h-1zM503 125h1v1h-1zM504 126h1v1h-1zM505 127h1v2h-1zM506 129h1v1h-1zM507 130h1v1h-1zM508 131h1v2h-1zM509 133h1v1h-1zM510 134h1v2h-1zM511 136h1v2h-1zM512 138h1v1h-1zM513 139h1v2h-1zM514 141h1v1h-1zM515 142h1v1h-1zM516 143h1v1h-1zM517 144h1v2h-1zM518 146h1v1h-1zM519 147h1v1h-1zM520 148h2v1h-2zM522 149h3v1h-3zM525 150h2v1h-2zM527 151h1v2h-1zM528 153h1v2h-1zM529 155h1v2h-1zM530 157h1v2h-1zM531 159h1v2h-1zM532 161h2v1h-2zM534 160h2v1h-2zM536 159h2v1h-2zM538 158h1v1h-1zM539 156h1v2h-1zM540 155h1v1h-1zM541 154h1v1h-1zM542 155h2v1h-2zM544 156h1v1h-1zM545 157h1v1h-1zM546 158h2v1h-2zM548 159h2v1h-2zM550 160h2v1h-2zM552 161h3v1h-3zM555 162h2v1h-2zM557 163h1v1h-1zM558 164h1v1h-1zM559 165h1v1h-1zM560 166h1v1h-1zM561 167h1v1h-1zM562 168h1v1h-1zM563 169h1v1h-1zM564 170h1v1h-1zM565 169h2v1h-2zM567 168h2v1h-2zM569 167h1v1h-1zM570 165h1v2h-1zM571 164h1v1h-1zM572 163h1v1h-1zM573 161h2v1h-2zM573 162h1v1h-1zM574 160h1v1h-1zM575 162h1v4h-1zM576 166h1v4h-1zM577 170h1v4h-1zM578 174h1v6h-1zM579 180h1v10h-1zM580 190h1v11h-1zM581 201h1v13h-1zM582 214h1v9h-1zM583 223h1v6h-1zM584 229h1v6h-1zM585 235h1v4h-1zM586 239h1v4h-1zM587 243h1v3h-1zM588 246h1v4h-1zM589 250h1v2h-1zM590 252h1v1h-1zM591 253h1v1h-1zM592 254h1v1h-1zM593 253h1v1h-1zM594 252h1v1h-1zM595 251h1v1h-1zM596 250h1v1h-1zM597 249h2v1h-2zM599 248h1v1h-1zM600 247h1v1h-1zM601 246h1v1h-1zM602 245h3v1h-3zM605 244h4v1h-4zM609 243h3v1h-3zM612 242h2v1h-2zM614 241h1v1h-1zM615 240h2v1h-2zM617 239h1v1h-1zM618 240h2v1h-2zM620 241h2v1h-2zM621 242h1v3h-1zM622 245h1v8h-1zM623 253h1v7h-1zM624 260h1v6h-1zM625 266h1v6h-1zM626 272h1v7h-1zM627 279h1v6h-1zM628 285h1v7h-1zM629 292h1v6h-1zM630 298h1v4h-1zM631 302h1v5h-1zM632 307h1v4h-1zM633 311h1v4h-1zM634 315h1v3h-1zM635 318h1v4h-1zM636 322h1v2h-1zM637 324h1v2h-1zM638 326h1v2h-1zM639 328h1v2h-1zM640 330h1v1h-1zM640 331h2v1h-2zM642 332h4v1h-4zM646 333h3v1h-3zM649 334h1v1h-1zM650 335h1v1h-1zM651 336h2v1h-2zM653 337h1v1h-1zM654 338h1v1h-1zM655 339h2v1h-2zM657 340h2v1h-2zM659 341h5v1h-5zM664 340h1v1h-1zM665 339h1v1h-1zM666 337h1v2h-1zM667 336h1v1h-1zM668 335h1v1h-1zM669 336h2v1h-2zM671 337h1v1h-1zM672 338h2v1h-2zM674 339h1v1h-1zM675 340h2v1h-2zM677 341h2v1h-2zM679 342h2v1h-2zM681 343h4v1h-4zM685 344h4v1h-4zM689 345h2v1h-2zM691 346h7v1h-7zM698 345h2v1h-2zM700 344h1v1h-1zM701 343h2v1h-2zM703 342h1v1h-1zM704 341h2v1h-2zM706 340h6v1h-6zM711 341h1v1h-1zM712 342h1v2h-1zM713 344h1v3h-1zM714 347h1v2h-1zM715 349h1v2h-1z" fill="#c80000" shape-rendering="crispEdges"/>
</svg></body></html>
